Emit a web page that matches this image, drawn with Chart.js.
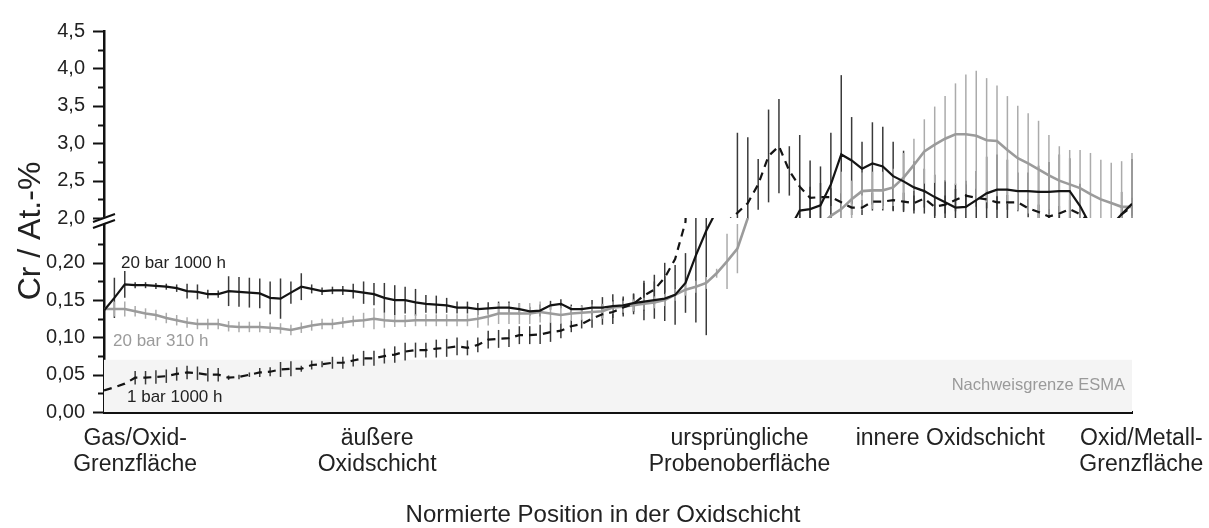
<!DOCTYPE html>
<html>
<head>
<meta charset="utf-8">
<title>Cr in der Oxidschicht</title>
<script src="https://cdn.jsdelivr.net/npm/chart.js@4.4.1/dist/chart.umd.min.js"></script>
<style>
  body { margin: 0; background: #fff; }
</style>
</head>
<body>
<canvas id="myChart" width="1209" height="528"></canvas>
<script>
// measuring points across the oxide layer (0 = gas side, 99 = metal side)
const positions = Array.from({ length: 100 }, (_, i) => i);

// 20 bar, 1000 h
const bar20h1000 = [
  0.136, 0.153, 0.171, 0.170, 0.170, 0.169, 0.168, 0.166, 0.162, 0.161,
  0.158, 0.158, 0.162, 0.161, 0.160, 0.159, 0.153, 0.152, 0.160, 0.168,
  0.165, 0.162, 0.163, 0.163, 0.162, 0.160, 0.158, 0.153, 0.150, 0.150,
  0.147, 0.145, 0.144, 0.143, 0.140, 0.140, 0.138, 0.139, 0.140, 0.140,
  0.138, 0.135, 0.136, 0.143, 0.145, 0.138, 0.138, 0.140, 0.140, 0.142,
  0.143, 0.146, 0.148, 0.150, 0.152, 0.157, 0.173, 0.210, 0.243, 0.270,
  null, null, null, null, null, null, 1.85, 2.10, 2.12, 2.17,
  2.45, 2.85, 2.77, 2.66, 2.73, 2.69, 2.56, 2.49, 2.41, 2.36,
  2.28, 2.21, 2.14, 2.15, 2.24, 2.33, 2.38, 2.38, 2.36, 2.36,
  2.35, 2.35, 2.36, 2.36, 2.16, 1.90, null, 1.90, 2.05, 2.19
];
const bar20h1000Err = [
  0, 0.027, 0.018, 0.004, 0.004, 0.004, 0.004, 0.005, 0.010, 0.010,
  0.006, 0.005, 0.020, 0.020, 0.020, 0.020, 0.022, 0.027, 0.015, 0.018,
  0.006, 0.005, 0.005, 0.006, 0.010, 0.015, 0.015, 0.020, 0.020, 0.018,
  0.018, 0.012, 0.012, 0.010, 0.008, 0.008, 0.008, 0.008, 0.008, 0.008,
  0.008, 0.006, 0.008, 0.006, 0.006, 0.006, 0.005, 0.010, 0.014, 0.016,
  0.012, 0.012, 0.025, 0.025, 0.030, 0.040, 0.040, 0.090, 0.140, 0,
  0, 0, 0, 0, 0, 0, 0, 0.30, 0.30, 0.30,
  0.69, 1.06, 0.58, 0.36, 0.55, 0.53, 0.46, 0.41, 0.35, 0.30,
  0.30, 0.30, 0.32, 0.35, 0.39, 0.49, 0.47, 0.40, 0.25, 0.25,
  0.35, 0.40, 0.49, 0.44, 0.30, 0, 0, 0, 0.30, 0.60
];

// 20 bar, 310 h
const bar20h310 = [
  0.138, 0.138, 0.138, 0.135, 0.132, 0.130, 0.126, 0.123, 0.120, 0.118,
  0.118, 0.118, 0.115, 0.114, 0.114, 0.114, 0.113, 0.112, 0.110, 0.113,
  0.116, 0.118, 0.118, 0.120, 0.122, 0.123, 0.125, 0.123, 0.122, 0.122,
  0.123, 0.123, 0.123, 0.123, 0.123, 0.123, 0.125, 0.128, 0.132, 0.132,
  0.132, 0.132, 0.134, 0.132, 0.130, 0.132, 0.133, 0.134, 0.135, 0.140,
  0.141, 0.143, 0.145, 0.147, 0.150, 0.157, 0.164, 0.168, 0.173, 0.186,
  0.202, 0.219, 0.260, null, null, null, null, null, null, 1.90,
  2.03, 2.12, 2.25, 2.36, 2.37, 2.37, 2.41, 2.54, 2.71, 2.89,
  2.98, 3.06, 3.12, 3.12, 3.10, 3.04, 3.03, 2.91, 2.80, 2.73,
  2.65, 2.57, 2.50, 2.45, 2.40, 2.32, 2.25, 2.20, 2.15, 2.15
];
const bar20h310Err = [
  0, 0.010, 0.010, 0.007, 0.007, 0.007, 0.007, 0.007, 0.007, 0.007,
  0.007, 0.007, 0.007, 0.007, 0.007, 0.007, 0.007, 0.007, 0.007, 0.007,
  0.007, 0.007, 0.007, 0.007, 0.007, 0.010, 0.014, 0.010, 0.008, 0.008,
  0.008, 0.008, 0.008, 0.008, 0.008, 0.008, 0.012, 0.012, 0.014, 0.014,
  0.014, 0.014, 0.014, 0.012, 0.012, 0.010, 0.010, 0.010, 0.010, 0.008,
  0.008, 0.008, 0.008, 0.008, 0.008, 0.008, 0.008, 0.008, 0.008, 0.006,
  0.037, 0.033, 0, 0, 0, 0, 0, 0, 0, 0,
  0, 0.50, 0.25, 0.25, 0.25, 0.25, 0.25, 0.33, 0.35, 0.43,
  0.51, 0.57, 0.68, 0.80, 0.87, 0.83, 0.74, 0.72, 0.70, 0.67,
  0.65, 0.54, 0.46, 0.46, 0.51, 0.55, 0.53, 0.54, 0.61, 0.72
];

// 1 bar, 1000 h
const bar1h1000 = [
  0.029, 0.033, 0.038, 0.046, 0.046, 0.047, 0.048, 0.051, 0.053, 0.052,
  0.050, 0.050, 0.046, 0.047, 0.050, 0.053, 0.054, 0.057, 0.058, 0.058,
  0.063, 0.064, 0.066, 0.066, 0.069, 0.072, 0.072, 0.075, 0.077, 0.081,
  0.083, 0.083, 0.085, 0.086, 0.088, 0.086, 0.090, 0.097, 0.098, 0.099,
  0.103, 0.103, 0.104, 0.107, 0.109, 0.115, 0.118, 0.125, 0.131, 0.134,
  0.140, 0.145, 0.156, 0.164, 0.180, 0.205, 0.255, null, null, null,
  1.95, 2.07, 2.20, 2.45, 2.83, 2.96, 2.63, 2.42, 2.27, 2.28,
  2.28, 2.21, 2.14, 2.14, 2.22, 2.22, 2.24, 2.22, 2.20, 2.26,
  2.15, 2.18, 2.24, 2.30, 2.27, 2.25, 2.21, 2.21, 2.21, 2.13,
  2.08, 2.02, 2.06, 2.12, 2.05, 1.95, null, 1.93, 2.05, 2.15
];
const bar1h1000Err = [
  0, 0, 0, 0.009, 0.009, 0.009, 0.009, 0.009, 0.009, 0.009,
  0.009, 0.009, 0.003, 0.003, 0.003, 0.006, 0.006, 0.010, 0.010, 0.004,
  0.006, 0.004, 0.008, 0.008, 0.008, 0.010, 0.010, 0.010, 0.011, 0.012,
  0.010, 0.010, 0.012, 0.012, 0.012, 0.010, 0.010, 0.012, 0.012, 0.012,
  0.012, 0.012, 0.013, 0.013, 0.010, 0.008, 0.006, 0.012, 0.014, 0.016,
  0.012, 0.014, 0.020, 0.020, 0.020, 0, 0, 0, 0, 0,
  0, 1.07, 0.88, 0.34, 0.62, 0.63, 0.33, 0.69, 0.50, 0.41,
  0.12, 0.12, 0.10, 0.10, 0.12, 0.12, 0.15, 0.12, 0.10, 0.12,
  0.12, 0.12, 0.15, 0.15, 0.12, 0.12, 0.10, 0.10, 0.12, 0.12,
  0.10, 0.10, 0.10, 0.12, 0.10, 0, 0, 0, 0.10, 0.12
];

// x axis regions
const regionPos = [3.0, 26.3, 61.2, 81.5, 99.9];
const regionLabels = [
  ['Gas/Oxid-', 'Grenzfläche'],
  ['äußere', 'Oxidschicht'],
  ['ursprüngliche', 'Probenoberfläche'],
  ['innere Oxidschicht'],
  ['Oxid/Metall-', 'Grenzfläche']
];

const detectionLimit = 0.07;
const FONT = '"Liberation Sans", Arial, sans-serif';
Chart.defaults.font.family = FONT;
Chart.defaults.color = '#222';

const series = [
  { label: '20 bar 1000 h', values: bar20h1000, errors: bar20h1000Err, color: '#141414', barColor: '#3a3a3a', width: 2.2, dash: [] },
  { label: '1 bar 1000 h', values: bar1h1000, errors: bar1h1000Err, color: '#141414', barColor: '#3a3a3a', width: 2.2, dash: [8, 6] },
  { label: '20 bar 310 h', values: bar20h310, errors: bar20h310Err, color: '#9b9b9b', barColor: '#ababab', width: 2.6, dash: [] }
];

// every series is drawn twice, once per part of the broken y axis
const datasets = [];
series.forEach(function (s) {
  ['yLow', 'yHigh'].forEach(function (axis) {
    datasets.push({
      label: s.label,
      data: s.values,
      yAxisID: axis,
      borderColor: s.color,
      borderWidth: s.width,
      borderDash: s.dash,
      pointRadius: 0,
      tension: 0,
      spanGaps: true,
      clip: 0,
      errors: s.errors,
      errorColor: s.barColor
    });
  });
});

const decor = {
  id: 'decor',
  beforeDatasetsDraw(chart) {
    const ctx = chart.ctx;
    const x = chart.scales.x;
    const low = chart.scales.yLow;

    // detection limit band
    ctx.save();
    ctx.fillStyle = '#f4f4f4';
    const yl = low.getPixelForValue(detectionLimit);
    ctx.fillRect(x.left, yl, x.right - x.left, low.bottom - yl);
    ctx.fillStyle = '#9a9a9a';
    ctx.font = '16.5px ' + FONT;
    ctx.textAlign = 'right';
    ctx.textBaseline = 'alphabetic';
    ctx.fillText('Nachweisgrenze ESMA', x.right - 7, low.getPixelForValue(0.029));
    ctx.restore();

    // error bars, clipped to their own axis part
    chart.data.datasets.forEach(function (ds) {
      const y = chart.scales[ds.yAxisID];
      ctx.save();
      ctx.beginPath();
      ctx.rect(x.left - 2, y.top, x.right - x.left + 4, y.bottom - y.top);
      ctx.clip();
      ctx.strokeStyle = ds.errorColor;
      ctx.lineWidth = 1.5;
      ds.data.forEach(function (v, k) {
        const e = ds.errors[k];
        if (v == null || !e) return;
        const px = x.getPixelForValue(positions[k]);
        ctx.beginPath();
        ctx.moveTo(px, y.getPixelForValue(v - e));
        ctx.lineTo(px, y.getPixelForValue(v + e));
        ctx.stroke();
      });
      ctx.restore();
    });
  },
  afterDraw(chart) {
    const ctx = chart.ctx;
    const x = chart.scales.x;
    const low = chart.scales.yLow;
    const high = chart.scales.yHigh;
    const ax = x.left;

    ctx.save();
    ctx.strokeStyle = '#111';
    ctx.lineWidth = 2;
    // major and minor ticks
    function tick(y, len) {
      ctx.beginPath();
      ctx.moveTo(ax - len, Math.round(y) + 0.5);
      ctx.lineTo(ax, Math.round(y) + 0.5);
      ctx.stroke();
    }
    for (let v = 0; v <= 0.2251; v += 0.025) {
      const major = Math.abs(v / 0.05 - Math.round(v / 0.05)) < 1e-6;
      tick(low.getPixelForValue(v), major ? 11 : 6);
    }
    for (let v = 2; v <= 4.501; v += 0.25) {
      const major = Math.abs(v / 0.5 - Math.round(v / 0.5)) < 1e-6;
      tick(high.getPixelForValue(v), major ? 11 : 6);
    }

    // axis break
    const by = low.top + 2;
    ctx.fillStyle = '#fff';
    ctx.beginPath();
    ctx.moveTo(ax - 10, by + 1);
    ctx.lineTo(ax + 11, by - 7);
    ctx.lineTo(ax + 11, by - 1);
    ctx.lineTo(ax - 10, by + 7);
    ctx.closePath();
    ctx.fill();
    ctx.beginPath();
    ctx.moveTo(ax - 11, by + 2);
    ctx.lineTo(ax + 11, by - 6);
    ctx.moveTo(ax - 11, by + 8);
    ctx.lineTo(ax + 11, by);
    ctx.stroke();

    // series names
    ctx.font = '17px ' + FONT;
    ctx.textAlign = 'left';
    ctx.fillStyle = '#222';
    ctx.fillText('20 bar 1000 h', ax + 17, low.getPixelForValue(0.193));
    ctx.fillText('1 bar 1000 h', ax + 23, low.getPixelForValue(0.013));
    ctx.fillStyle = '#9b9b9b';
    ctx.fillText('20 bar 310 h', ax + 9, low.getPixelForValue(0.088));

    ctx.fillStyle = '#222';
    ctx.textAlign = 'center';
    ctx.textBaseline = 'middle';
    // x axis title
    ctx.font = '24px ' + FONT;
    ctx.fillText('Normierte Position in der Oxidschicht', 603, 515);
    // y axis title
    ctx.font = '32px ' + FONT;
    ctx.translate(31, 231);
    ctx.rotate(-Math.PI / 2);
    ctx.fillText('Cr / At.-%', 0, 0);
    ctx.restore();
  }
};

const ctx = document.getElementById('myChart');

var c = new Chart(ctx, {
  type: 'line',
  data: {
    labels: positions,
    datasets: datasets
  },
  options: {
    responsive: false,
    animation: false,
    events: [],
    layout: { padding: { top: 25, right: 77, left: 0, bottom: 0 } },
    plugins: {
      legend: { display: false },
      tooltip: { enabled: false }
    },
    scales: {
      x: {
        type: 'linear',
        min: 0,
        max: 99,
        grid: { display: false, drawTicks: false },
        border: { display: true, color: '#111', width: 3 },
        afterBuildTicks: function (scale) {
          scale.ticks = regionPos.map(function (v) { return { value: v }; });
        },
        afterFit: function (scale) {
          scale.height = 116;
          scale.paddingLeft = 0;
          scale.paddingRight = 0;
        },
        ticks: {
          autoSkip: false,
          maxRotation: 0,
          padding: 14,
          color: '#222',
          font: { size: 23, lineHeight: 1.13 },
          callback: function (v, i) { return regionLabels[i]; }
        }
      },
      yLow: {
        type: 'linear',
        position: 'left',
        stack: 'cr',
        stackWeight: 197,
        offset: false,
        min: 0,
        max: 0.26,
        grid: { display: false, drawTicks: false },
        border: { display: true, color: '#111', width: 2.5 },
        afterFit: function (scale) { scale.width = 104; },
        ticks: {
          stepSize: 0.05,
          autoSkip: false,
          padding: 19,
          color: '#222',
          font: { size: 20 },
          callback: function (v) { return v > 0.201 ? '' : v.toFixed(2).replace('.', ','); }
        }
      },
      yHigh: {
        type: 'linear',
        position: 'left',
        stack: 'cr',
        stackWeight: 190,
        offset: false,
        min: 2.0,
        max: 4.5,
        grid: { display: false, drawTicks: false },
        border: { display: true, color: '#111', width: 2.5 },
        afterFit: function (scale) { scale.width = 104; },
        ticks: {
          stepSize: 0.5,
          autoSkip: false,
          padding: 19,
          color: '#222',
          font: { size: 20 },
          callback: function (v) { return v.toFixed(1).replace('.', ','); }
        }
      }
    }
  },
  plugins: [decor]
});
</script>
</body>
</html>
